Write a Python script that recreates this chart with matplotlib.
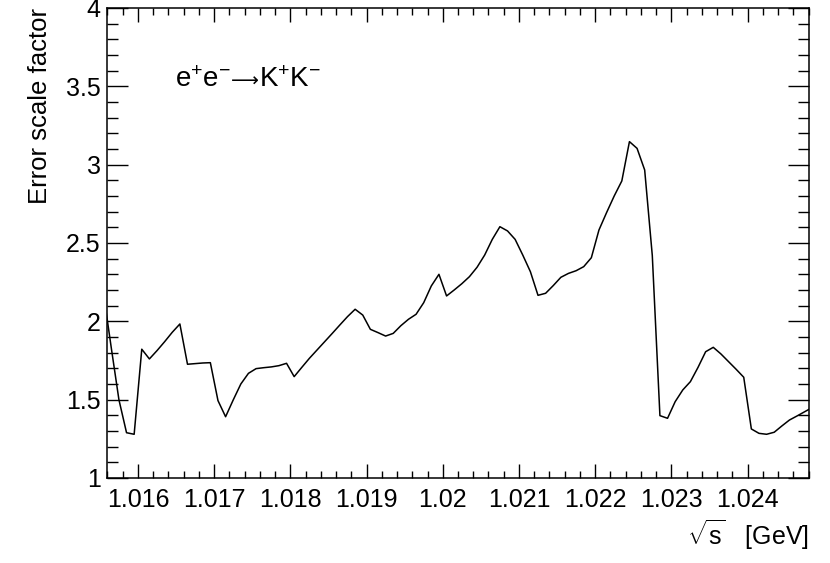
import numpy as np
import matplotlib
matplotlib.use('Agg')
import matplotlib.pyplot as plt
from matplotlib.ticker import MultipleLocator, FixedLocator, FixedFormatter
from matplotlib.offsetbox import TextArea, HPacker, AnchoredOffsetbox

plt.rcParams['font.family'] = ['Liberation Sans', 'DejaVu Sans']
plt.rcParams['mathtext.fontset'] = 'custom'
plt.rcParams['mathtext.rm'] = 'Liberation Sans'
plt.rcParams['mathtext.it'] = 'Liberation Sans:italic'

# sqrt(s) points in GeV
energy = [1.01555, 1.01565, 1.01575, 1.01585, 1.01595, 1.01605, 1.01615, 1.01625,
          1.01635, 1.01645, 1.01655, 1.01665, 1.01675, 1.01685, 1.01695, 1.01705,
          1.01715, 1.01725, 1.01735, 1.01745, 1.01755, 1.01765, 1.01775, 1.01785,
          1.01795, 1.01805, 1.01815, 1.01825, 1.01835, 1.01845, 1.01855, 1.01865,
          1.01875, 1.01885, 1.01895, 1.01905, 1.01915, 1.01925, 1.01935, 1.01945,
          1.01955, 1.01965, 1.01975, 1.01985, 1.01995, 1.02005, 1.02015, 1.02025,
          1.02035, 1.02045, 1.02055, 1.02065, 1.02075, 1.02085, 1.02095, 1.02105,
          1.02115, 1.02125, 1.02135, 1.02145, 1.02155, 1.02165, 1.02175, 1.02185,
          1.02195, 1.02205, 1.02215, 1.02225, 1.02235, 1.02245, 1.02255, 1.02265,
          1.02275, 1.02285, 1.02295, 1.02305, 1.02315, 1.02325, 1.02335, 1.02345,
          1.02355, 1.02365, 1.02375, 1.02385, 1.02395, 1.02405, 1.02415, 1.02425,
          1.02435, 1.02445, 1.02455, 1.02465, 1.02475, 1.02485]

scale_factor = [2.17, 1.83, 1.50, 1.289, 1.279, 1.822, 1.760, 1.813,
                1.870, 1.930, 1.983, 1.726, 1.730, 1.734, 1.736, 1.494,
                1.391, 1.498, 1.600, 1.668, 1.698, 1.704, 1.709, 1.717,
                1.732, 1.647, 1.706, 1.764, 1.817, 1.870, 1.923, 1.977,
                2.030, 2.077, 2.040, 1.949, 1.928, 1.906, 1.923, 1.972,
                2.013, 2.045, 2.119, 2.226, 2.300, 2.162, 2.200, 2.240,
                2.285, 2.345, 2.423, 2.523, 2.604, 2.577, 2.523, 2.423,
                2.317, 2.166, 2.179, 2.228, 2.281, 2.306, 2.323, 2.349,
                2.406, 2.583, 2.694, 2.800, 2.896, 3.147, 3.104, 2.966,
                2.42, 1.398, 1.381, 1.487, 1.562, 1.615, 1.706, 1.806,
                1.834, 1.792, 1.743, 1.694, 1.643, 1.313, 1.285, 1.279,
                1.292, 1.332, 1.370, 1.396, 1.423, 1.45]

x_ticks = [1.016, 1.017, 1.018, 1.019, 1.020, 1.021, 1.022, 1.023, 1.024]
x_tick_labels = ['1.016', '1.017', '1.018', '1.019', '1.02', '1.021', '1.022', '1.023', '1.024']
y_ticks = [1.0, 1.5, 2.0, 2.5, 3.0, 3.5, 4.0]
y_tick_labels = ['1', '1.5', '2', '2.5', '3', '3.5', '4']

fig = plt.figure(figsize=(8.3, 5.63), dpi=100)
ax = fig.add_axes([0.1295, 0.151, 0.8446, 0.8348])

ax.plot(energy, scale_factor, color='black', lw=1.1)

ax.set_xlim(1.0156, 1.0248)
ax.set_ylim(1, 4)

ax.xaxis.set_major_locator(FixedLocator(x_ticks))
ax.xaxis.set_major_formatter(FixedFormatter(x_tick_labels))
ax.xaxis.set_minor_locator(MultipleLocator(0.0002))
ax.yaxis.set_major_locator(FixedLocator(y_ticks))
ax.yaxis.set_major_formatter(FixedFormatter(y_tick_labels))
ax.yaxis.set_minor_locator(MultipleLocator(0.1))

ax.tick_params(which='both', direction='in', top=True, right=True, width=1.0,
               labelsize=18, colors='black')
ax.tick_params(axis='x', which='major', length=10.3, pad=7)
ax.tick_params(axis='x', which='minor', length=5.0)
ax.tick_params(axis='y', which='major', length=15.1, pad=5)
ax.tick_params(axis='y', which='minor', length=7.6)
for sp in ax.spines.values():
    sp.set_linewidth(1.1)

ax.set_ylabel('Error scale factor', fontsize=18.5, loc='top')
ax.yaxis.set_label_coords(-0.079, 1.0)
ax.set_xlabel(r'$\mathregular{\sqrt{s}}$   [GeV]', fontsize=18, loc='right')
ax.xaxis.set_label_coords(1.0, -0.085)

# process label: e+e- -> K+K-
parts = [TextArea(r'$\mathregular{e^{+}e^{-}}$', textprops=dict(fontsize=20)),
         TextArea('⟶', textprops=dict(fontsize=14)),
         TextArea(r'$\mathregular{K^{+}K^{-}}$', textprops=dict(fontsize=20))]
label_box = HPacker(children=parts, align='baseline', pad=0, sep=0)
anchored = AnchoredOffsetbox(loc='lower left', child=label_box, pad=0, borderpad=0,
                             frameon=False, bbox_to_anchor=(0.0963, 0.82),
                             bbox_transform=ax.transAxes)
ax.add_artist(anchored)

fig.savefig('out.png', dpi=100)
